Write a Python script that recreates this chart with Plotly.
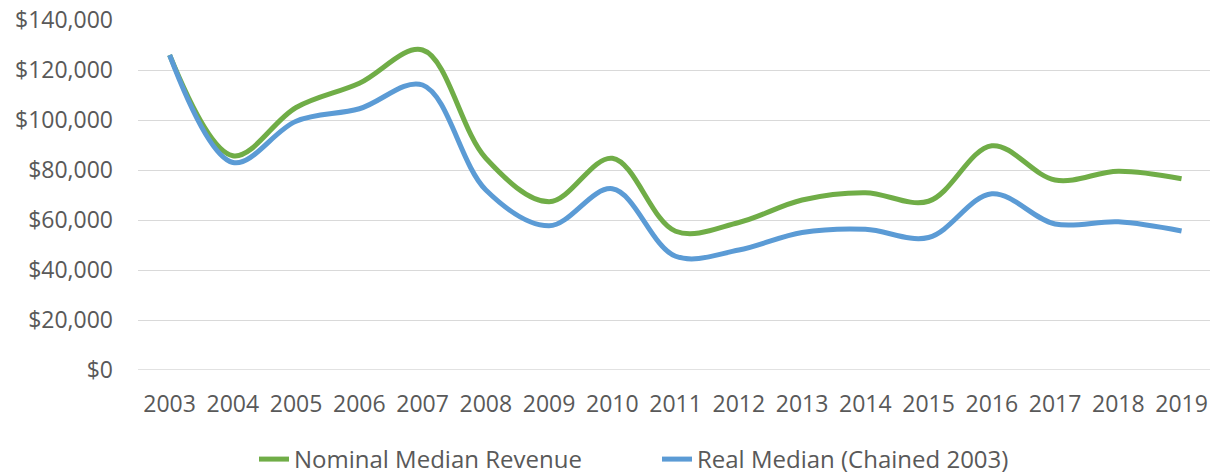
import plotly.graph_objects as go

years = [str(y) for y in range(2003, 2020)]
nominal = [126000, 85700, 105000, 114700, 128000, 84700, 67300, 84700, 55500,
           59000, 68000, 70900, 67500, 89700, 76000, 79500, 76500]
real = [126000, 83000, 99500, 104500, 114000, 72000, 57700, 72500, 45500,
        48000, 55000, 56300, 53000, 70500, 58400, 59300, 55600]
y_ticks = [0, 20000, 40000, 60000, 80000, 100000, 120000, 140000]
y_tick_labels = ["$0", "$20,000", "$40,000", "$60,000", "$80,000", "$100,000", "$120,000", "$140,000"]

GREEN = "#70AD47"
BLUE = "#5B9BD5"
TEXT = "#595959"
FONT = "Open Sans"
FS = 23

fig = go.Figure()
fig.add_trace(go.Scatter(x=years, y=nominal, name="Nominal Median Revenue", mode="lines",
                         line=dict(color=GREEN, width=5, shape="spline", smoothing=1.0)))
fig.add_trace(go.Scatter(x=years, y=real, name="Real Median (Chained 2003)", mode="lines",
                         line=dict(color=BLUE, width=5, shape="spline", smoothing=1.0)))

fig.update_layout(
    width=1210, height=475,
    margin=dict(l=138, r=0, t=20, b=105, autoexpand=False),
    paper_bgcolor="white", plot_bgcolor="white",
    font=dict(family=FONT, size=FS, color=TEXT),
    showlegend=True,
    legend=dict(orientation="h", x=0.1082, xanchor="left", y=-0.1914, yanchor="top",
                font=dict(family=FONT, size=24, color=TEXT), traceorder="normal",
                entrywidth=358, itemwidth=30),
    xaxis=dict(type="category", range=[-0.5, 16.45], showgrid=False, showline=False,
               zeroline=False, ticks="", ticklabelstandoff=18, automargin=False,
               tickfont=dict(family=FONT, size=FS, color=TEXT)),
    yaxis=dict(range=[0, 140000], tickvals=y_ticks, ticktext=y_tick_labels,
               showgrid=True, gridcolor="#D9D9D9", gridwidth=1.3, zeroline=False,
               showline=False, ticks="", ticklabelstandoff=24, automargin=False,
               tickfont=dict(family=FONT, size=FS, color=TEXT)),
)
fig.add_hline(y=0, line=dict(color="#D9D9D9", width=1.3))

fig.write_html("out.html", config={"displayModeBar": False},
               post_script="document.body.style.margin='0';document.body.style.padding='0';")
